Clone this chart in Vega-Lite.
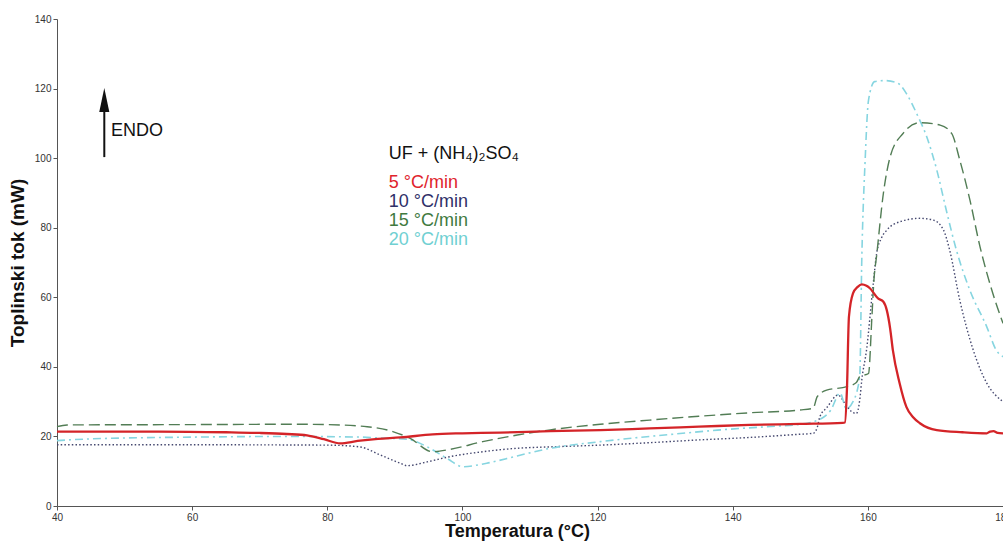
{
  "$schema": "https://vega.github.io/schema/vega-lite/v6.json",
  "width": 946,
  "height": 487,
  "autosize": {"type": "none"},
  "padding": {"left": 57, "top": 19, "right": 0, "bottom": 36},
  "background": "white",
  "config": {"view": {"stroke": null}, "font": "Liberation Sans"},
  "datasets": {
    "curves": [
      {"s":"5","T":40,"mW":21.4},{"s":"5","T":55,"mW":21.4},{"s":"5","T":65,"mW":21.2},{"s":"5","T":70,"mW":21.0},{"s":"5","T":74,"mW":20.7},{"s":"5","T":77,"mW":20.3},{"s":"5","T":79.5,"mW":19.2},{"s":"5","T":81.9,"mW":18.0},{"s":"5","T":84.5,"mW":18.7},{"s":"5","T":87.5,"mW":19.3},{"s":"5","T":90.8,"mW":19.7},{"s":"5","T":95.6,"mW":20.6},{"s":"5","T":100,"mW":20.9},{"s":"5","T":105.6,"mW":21.1},{"s":"5","T":113,"mW":21.5},{"s":"5","T":120.4,"mW":21.8},{"s":"5","T":127.7,"mW":22.3},{"s":"5","T":135,"mW":22.8},{"s":"5","T":142.5,"mW":23.3},{"s":"5","T":150,"mW":23.6},{"s":"5","T":156.3,"mW":23.9},{"s":"5","T":156.6,"mW":24.0},{"s":"5","T":156.9,"mW":33.3},{"s":"5","T":157.2,"mW":54.4},{"s":"5","T":157.8,"mW":61.1},{"s":"5","T":158.5,"mW":63.0},{"s":"5","T":159.1,"mW":63.7},{"s":"5","T":159.8,"mW":63.3},{"s":"5","T":160.3,"mW":62.6},{"s":"5","T":161.5,"mW":59.7},{"s":"5","T":162.3,"mW":58.7},{"s":"5","T":162.8,"mW":56.3},{"s":"5","T":163.3,"mW":51.0},{"s":"5","T":163.7,"mW":44.8},{"s":"5","T":164.7,"mW":35.3},{"s":"5","T":165.7,"mW":28.5},{"s":"5","T":166.7,"mW":25.5},{"s":"5","T":167.7,"mW":23.8},{"s":"5","T":170.2,"mW":21.8},{"s":"5","T":174,"mW":21.2},{"s":"5","T":177.6,"mW":20.9},{"s":"5","T":178.1,"mW":21.4},{"s":"5","T":178.6,"mW":21.5},{"s":"5","T":179.2,"mW":21.0},{"s":"5","T":180,"mW":20.9},

      {"s":"10","T":40,"mW":17.6},{"s":"10","T":60,"mW":17.6},{"s":"10","T":80,"mW":17.5},{"s":"10","T":84.8,"mW":17.0},{"s":"10","T":87.8,"mW":14.7},{"s":"10","T":90.8,"mW":12.3},{"s":"10","T":91.8,"mW":11.6},{"s":"10","T":94.8,"mW":12.7},{"s":"10","T":98.2,"mW":14.2},{"s":"10","T":103,"mW":15.6},{"s":"10","T":108.1,"mW":16.6},{"s":"10","T":113,"mW":17.0},{"s":"10","T":120.4,"mW":17.5},{"s":"10","T":127.7,"mW":18.2},{"s":"10","T":135,"mW":19.0},{"s":"10","T":142.5,"mW":19.7},{"s":"10","T":149.7,"mW":20.6},{"s":"10","T":151.9,"mW":20.9},{"s":"10","T":152.5,"mW":22.5},{"s":"10","T":152.9,"mW":25.7},{"s":"10","T":153.9,"mW":28.2},{"s":"10","T":155.6,"mW":31.9},{"s":"10","T":156.6,"mW":29.5},{"s":"10","T":157.6,"mW":27.1},{"s":"10","T":158.3,"mW":26.6},{"s":"10","T":158.8,"mW":30.5},{"s":"10","T":159.1,"mW":36.2},{"s":"10","T":159.8,"mW":44.8},{"s":"10","T":160.8,"mW":64.0},{"s":"10","T":161.3,"mW":72.6},{"s":"10","T":162.0,"mW":77.0},{"s":"10","T":162.8,"mW":79.3},{"s":"10","T":164.7,"mW":81.7},{"s":"10","T":167.7,"mW":82.7},{"s":"10","T":169.7,"mW":82.2},{"s":"10","T":171.2,"mW":79.3},{"s":"10","T":172.1,"mW":73.6},{"s":"10","T":173.6,"mW":59.2},{"s":"10","T":175.6,"mW":44.8},{"s":"10","T":177.6,"mW":35.3},{"s":"10","T":180,"mW":30.0},

      {"s":"15","T":40,"mW":22.8},{"s":"15","T":41.5,"mW":23.3},{"s":"15","T":60,"mW":23.4},{"s":"15","T":75,"mW":23.5},{"s":"15","T":80,"mW":23.4},{"s":"15","T":85.9,"mW":22.8},{"s":"15","T":89.7,"mW":21.4},{"s":"15","T":92.2,"mW":19.5},{"s":"15","T":95.6,"mW":15.6},{"s":"15","T":98.2,"mW":16.3},{"s":"15","T":103,"mW":18.5},{"s":"15","T":108.1,"mW":20.4},{"s":"15","T":113,"mW":21.9},{"s":"15","T":120.4,"mW":23.5},{"s":"15","T":127.7,"mW":24.7},{"s":"15","T":135,"mW":25.8},{"s":"15","T":142.5,"mW":26.8},{"s":"15","T":150,"mW":27.6},{"s":"15","T":151.9,"mW":28.1},{"s":"15","T":152.5,"mW":31.4},{"s":"15","T":153.9,"mW":33.3},{"s":"15","T":156.9,"mW":34.3},{"s":"15","T":158.3,"mW":35.5},{"s":"15","T":158.8,"mW":37.2},{"s":"15","T":160.1,"mW":38.1},{"s":"15","T":160.6,"mW":54.4},{"s":"15","T":160.9,"mW":65.0},{"s":"15","T":161.3,"mW":72.0},{"s":"15","T":162.3,"mW":89.9},{"s":"15","T":163.3,"mW":100.4},{"s":"15","T":165.2,"mW":107.1},{"s":"15","T":167.7,"mW":110.2},{"s":"15","T":170.7,"mW":109.5},{"s":"15","T":172.4,"mW":107.1},{"s":"15","T":173.6,"mW":99.5},{"s":"15","T":175.1,"mW":88.0},{"s":"15","T":176.6,"mW":74.5},{"s":"15","T":178.5,"mW":61.1},{"s":"15","T":180,"mW":52.5},

      {"s":"20","T":40,"mW":18.8},{"s":"20","T":45,"mW":19.3},{"s":"20","T":60,"mW":19.8},{"s":"20","T":75,"mW":20.0},{"s":"20","T":85,"mW":19.8},{"s":"20","T":88.2,"mW":19.5},{"s":"20","T":91.8,"mW":19.2},{"s":"20","T":94.8,"mW":17.0},{"s":"20","T":97.7,"mW":13.7},{"s":"20","T":100.1,"mW":11.3},{"s":"20","T":103.6,"mW":12.3},{"s":"20","T":108.1,"mW":14.4},{"s":"20","T":113,"mW":16.6},{"s":"20","T":120.4,"mW":18.5},{"s":"20","T":132.6,"mW":20.9},{"s":"20","T":137.7,"mW":21.8},{"s":"20","T":145,"mW":22.8},{"s":"20","T":150,"mW":23.5},{"s":"20","T":153,"mW":25.0},{"s":"20","T":154.5,"mW":27.5},{"s":"20","T":155.9,"mW":32.5},{"s":"20","T":156.8,"mW":28.0},{"s":"20","T":157.8,"mW":30.0},{"s":"20","T":158.8,"mW":37.2},{"s":"20","T":159.1,"mW":70.7},{"s":"20","T":159.6,"mW":99.5},{"s":"20","T":160.1,"mW":116.7},{"s":"20","T":161.0,"mW":122.0},{"s":"20","T":162.5,"mW":122.3},{"s":"20","T":164.3,"mW":121.7},{"s":"20","T":165.7,"mW":118.6},{"s":"20","T":167.2,"mW":112.9},{"s":"20","T":168.7,"mW":106.2},{"s":"20","T":170.2,"mW":96.6},{"s":"20","T":171.6,"mW":85.1},{"s":"20","T":173.1,"mW":73.6},{"s":"20","T":175.1,"mW":62.0},{"s":"20","T":177.6,"mW":51.5},{"s":"20","T":179.0,"mW":44.8},{"s":"20","T":180,"mW":42.9}
    ],
    "legendText": [
      {"s":"title","label":"UF + (NH₄)₂SO₄","T":89.1,"mW":99.7},
      {"s":"5","label":"5 °C/min","T":89.1,"mW":91.4},
      {"s":"10","label":"10 °C/min","T":89.1,"mW":85.9},
      {"s":"15","label":"15 °C/min","T":89.1,"mW":80.5},
      {"s":"20","label":"20 °C/min","T":89.1,"mW":75.0}
    ],
    "endo": [{"label":"ENDO","T":48.0,"mW":106.4}],
    "arrowShaft": [{"T":47.0,"from":100.3,"to":113.5}],
    "arrowHead": [{"T":47.0,"mW":116.7}]
  },
  "layer": [
    {
      "data": {"name": "curves"},
      "transform": [{"filter": {"field": "s", "equal": "10"}}],
      "mark": {"type": "line", "interpolate": "monotone", "color": "#45486f", "strokeWidth": 1.4, "strokeDash": [1.5, 2.2]},
      "encoding": {
        "x": {"field": "T", "type": "quantitative",
              "scale": {"domain": [40, 180], "nice": false, "zero": false},
              "axis": {"values": [40,60,80,100,120,140,160,180], "tickSize": 4, "grid": false,
                       "labelFontSize": 10, "labelColor": "#333", "labelFont": "Liberation Sans", "labelPadding": 2, "labelFlush": false,
                       "domainColor": "#555", "tickColor": "#555",
                       "title": "Temperatura (°C)", "titleFont": "Liberation Sans", "titleFontSize": 18, "titleFontWeight": "bold", "titleColor": "#111", "titlePadding": 0, "titleX": 460, "titleAlign": "center"}},
        "y": {"field": "mW", "type": "quantitative",
              "scale": {"domain": [0, 140], "nice": false},
              "axis": {"values": [0,20,40,60,80,100,120,140], "tickSize": 4, "grid": false,
                       "labelFontSize": 10, "labelColor": "#333", "labelPadding": 2,
                       "domainColor": "#555", "tickColor": "#555",
                       "title": "Toplinski tok (mW)", "titleFontSize": 19, "titleFontWeight": "bold", "titleColor": "#111", "titlePadding": 7}}
      }
    },
    {
      "data": {"name": "curves"},
      "transform": [{"filter": {"field": "s", "equal": "20"}}],
      "mark": {"type": "line", "interpolate": "monotone", "color": "#86d5e0", "strokeWidth": 1.6, "strokeDash": [8, 4, 2, 4]},
      "encoding": {"x": {"field": "T", "type": "quantitative"}, "y": {"field": "mW", "type": "quantitative"}}
    },
    {
      "data": {"name": "curves"},
      "transform": [{"filter": {"field": "s", "equal": "15"}}],
      "mark": {"type": "line", "interpolate": "monotone", "color": "#527d55", "strokeWidth": 1.4, "strokeDash": [11, 5]},
      "encoding": {"x": {"field": "T", "type": "quantitative"}, "y": {"field": "mW", "type": "quantitative"}}
    },
    {
      "data": {"name": "curves"},
      "transform": [{"filter": {"field": "s", "equal": "5"}}],
      "mark": {"type": "line", "interpolate": "monotone", "color": "#d42428", "strokeWidth": 2.3},
      "encoding": {"x": {"field": "T", "type": "quantitative"}, "y": {"field": "mW", "type": "quantitative"}}
    },
    {
      "data": {"name": "legendText"},
      "mark": {"type": "text", "align": "left", "baseline": "alphabetic", "fontSize": 18},
      "encoding": {
        "x": {"field": "T", "type": "quantitative"},
        "y": {"field": "mW", "type": "quantitative"},
        "text": {"field": "label"},
        "color": {"field": "s", "type": "nominal", "legend": null,
                  "scale": {"domain": ["title","5","10","15","20"], "range": ["#111111","#e0242c","#2f3068","#3f7a3f","#70d0d2"]}}
      }
    },
    {
      "data": {"name": "endo"},
      "mark": {"type": "text", "align": "left", "baseline": "alphabetic", "fontSize": 18, "color": "#111"},
      "encoding": {"x": {"field": "T", "type": "quantitative"}, "y": {"field": "mW", "type": "quantitative"}, "text": {"field": "label"}}
    },
    {
      "data": {"name": "arrowShaft"},
      "mark": {"type": "rule", "color": "#111", "strokeWidth": 2},
      "encoding": {"x": {"field": "T", "type": "quantitative"}, "y": {"field": "from", "type": "quantitative"}, "y2": {"field": "to"}}
    },
    {
      "data": {"name": "arrowHead"},
      "mark": {"type": "point", "filled": true, "color": "#111", "opacity": 1, "size": 576, "shape": "M 0 -1 L 0.42 1 L -0.42 1 Z"},
      "encoding": {"x": {"field": "T", "type": "quantitative"}, "y": {"field": "mW", "type": "quantitative"}}
    }
  ]
}
